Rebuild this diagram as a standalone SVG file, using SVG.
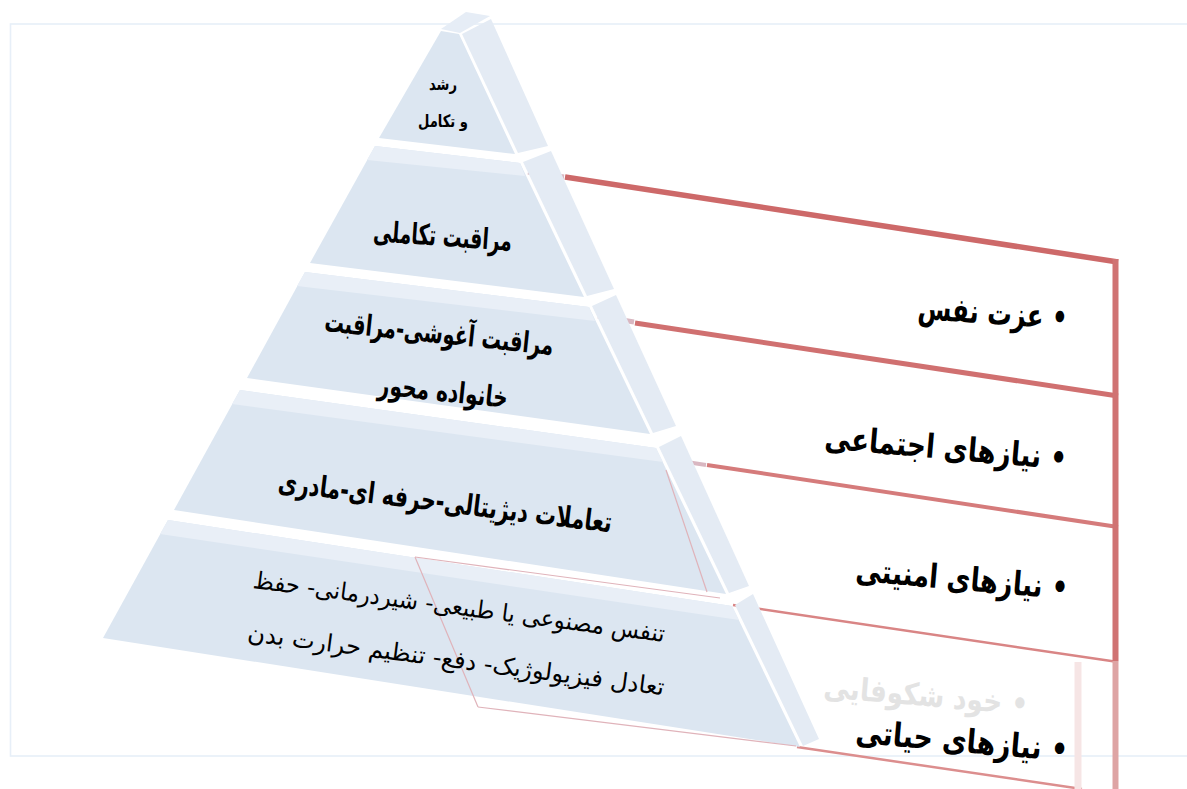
<svg xmlns="http://www.w3.org/2000/svg" width="1187" height="789" viewBox="0 0 1187 789">
<style>
.front{fill:#dce6f1}
.side{fill:#e4ebf4}
.slab{fill:#e9eff7}
.cap{fill:#e6edf6}
.t{font-family:"DejaVu Sans",sans-serif;fill:#000;text-anchor:middle}
.b{font-weight:bold}
.red{stroke-linecap:butt;fill:none}
.ghost{stroke:#d9b7c1;stroke-linecap:butt;fill:none}
.pink{stroke:#e0b3ba;stroke-width:1.2;fill:none}
</style>
<rect width="1187" height="789" fill="#ffffff"/>
<rect x="10.5" y="24" width="1200" height="732" fill="none" stroke="#e7eff8" stroke-width="1.6"/>

<g id="connectors">
  <line class="ghost" x1="528" y1="172" x2="564" y2="177" stroke-width="5"/>
  <line class="ghost" x1="598" y1="316" x2="634" y2="322" stroke-width="5"/>
  <line class="ghost" x1="667" y1="459" x2="706" y2="465" stroke-width="4"/>
  <line class="red" x1="565" y1="177" x2="1118" y2="262" stroke="#cd6969" stroke-width="5.5"/>
  <line class="red" x1="635" y1="323" x2="1118" y2="396" stroke="#d07070" stroke-width="5"/>
  <line class="red" x1="707" y1="465" x2="1118" y2="527" stroke="#d57b7b" stroke-width="4"/>
  <line class="red" x1="733" y1="605" x2="1118" y2="662" stroke="#d98585" stroke-width="2.5"/>
  <line class="red" x1="797" y1="747" x2="1082" y2="789" stroke="#dc8e8e" stroke-width="2.5"/>
  <line class="red" x1="1115.5" y1="259" x2="1115.5" y2="661" stroke="#d07373" stroke-width="6"/>
  <line class="red" x1="1115.5" y1="661" x2="1115.5" y2="789" stroke="#dea4a4" stroke-width="6"/>
  <line class="red" x1="1078" y1="662" x2="1078" y2="789" stroke="#f6e5e5" stroke-width="7"/>
</g>

<g id="tier1">
  <polygon class="cap" points="441,29 466,12 490,16 460,33"/>
  <polygon class="front" points="441,31 459,34 515,154 379,138"/>
  <polygon class="side" points="462,34 491,19 548,146 518,153"/>
  <text class="t b" x="443" y="90" font-size="17" textLength="28" lengthAdjust="spacingAndGlyphs">رشد</text>
  <text class="t b" x="443" y="127" font-size="17" textLength="50" lengthAdjust="spacingAndGlyphs">و تکامل</text>
</g>

<g id="tier2">
  <polygon class="front" points="375,146 520,163 584,297 310,263"/>
  <polygon class="slab" points="375,146 520,163 525,176 367,160"/>
  <polygon class="side" points="523,162 551,151 614,289 587,296"/>
  <text class="t b" x="442" y="246" font-size="29" textLength="139" lengthAdjust="spacingAndGlyphs" transform="rotate(4 442 246)">مراقبت تکاملی</text>
</g>

<g id="tier3">
  <polygon class="front" points="305,272 589,307 650,434 247,378"/>
  <polygon class="slab" points="305,272 589,307 595,321 297,286"/>
  <polygon class="side" points="592,306 616,295 676,426 653,433"/>
  <text class="t b" x="438" y="343" font-size="29" textLength="230" lengthAdjust="spacingAndGlyphs" transform="rotate(6 438 343)">مراقبت آغوشی-مراقبت</text>
  <text class="t b" x="442" y="401" font-size="29" textLength="130" lengthAdjust="spacingAndGlyphs" transform="rotate(6 442 401)">خانواده محور</text>
</g>

<g id="tier4">
  <polygon class="front" points="240,390 656,448 726,594 174,510"/>
  <polygon class="slab" points="240,390 656,448 663,462 232,404"/>
  <polygon class="side" points="659,447 681,436 749,586 729,593"/>
  <line class="pink" x1="666" y1="470" x2="707" y2="592"/>
  <text class="t b" x="444" y="512" font-size="29" textLength="336" lengthAdjust="spacingAndGlyphs" transform="rotate(7 444 512)">تعاملات دیژیتالی-حرفه ای-مادری</text>
</g>

<g id="tier5">
  <polygon class="front" points="168,520 732,606 800,747 103,638"/>
  <polygon class="slab" points="168,520 732,606 739,620 160,534"/>
  <polygon class="side" points="735,605 753,594 819,739 803,746"/>
  <line class="pink" x1="415" y1="557" x2="720" y2="598"/>
  <line class="pink" x1="415" y1="557" x2="478" y2="707"/>
  <line class="pink" x1="478" y1="707" x2="796" y2="746"/>
  <text class="t" x="458" y="615" font-size="24" textLength="415" lengthAdjust="spacingAndGlyphs" transform="rotate(7.5 458 615)">تنفس مصنوعی یا طبیعی- شیردرمانی- حفظ</text>
  <text class="t" x="455" y="668" font-size="24" textLength="420" lengthAdjust="spacingAndGlyphs" transform="rotate(7.5 455 668)">تعادل فیزیولوژیک- دفع- تنظیم حرارت بدن</text>
</g>

<g id="need-esteem">
  <text class="t b" x="992" y="324" font-size="33" direction="rtl" textLength="150" lengthAdjust="spacingAndGlyphs" transform="rotate(4 992 324)">• عزت نفس</text>
</g>
<g id="need-social">
  <text class="t b" x="945" y="459" font-size="33" direction="rtl" textLength="243" lengthAdjust="spacingAndGlyphs" transform="rotate(5 945 459)">• نیازهای اجتماعی</text>
</g>
<g id="need-safety">
  <text class="t b" x="961" y="590" font-size="33" direction="rtl" textLength="213" lengthAdjust="spacingAndGlyphs" transform="rotate(5 961 590)">• نیازهای امنیتی</text>
</g>
<g id="need-self">
  <text class="t b" x="925" y="706" font-size="31" direction="rtl" textLength="205" lengthAdjust="spacingAndGlyphs" transform="rotate(5 925 706)" style="fill:#e3e3e3">• خود شکوفایی</text>
</g>
<g id="need-physio">
  <text class="t b" x="961" y="752" font-size="33" direction="rtl" textLength="213" lengthAdjust="spacingAndGlyphs" transform="rotate(5 961 752)">• نیازهای حیاتی</text>
</g>
</svg>
